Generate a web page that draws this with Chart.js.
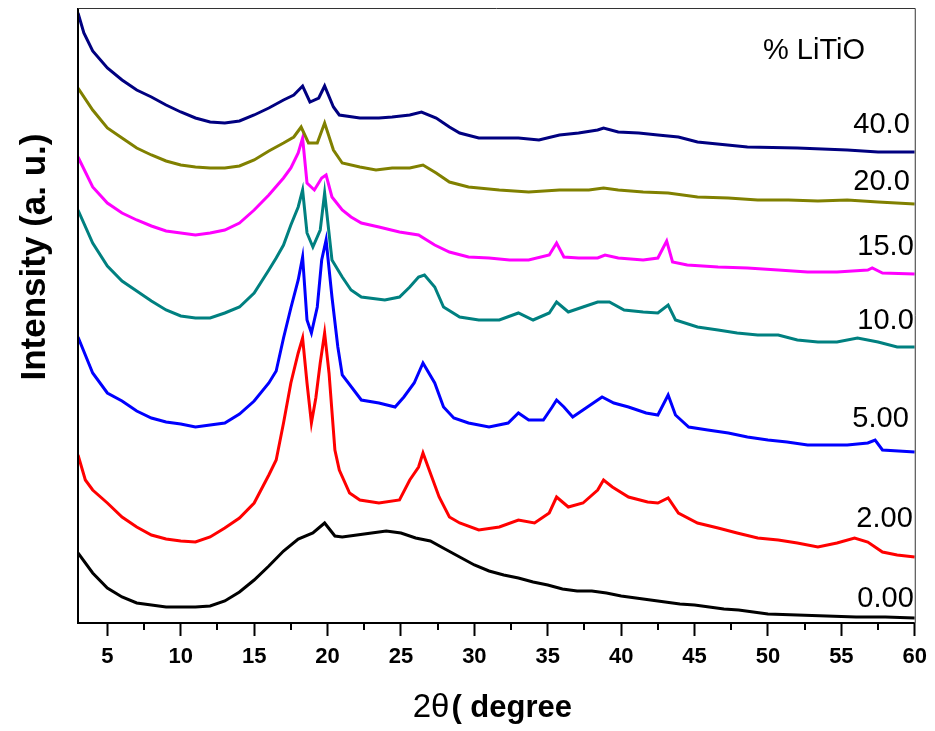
<!DOCTYPE html>
<html>
<head>
<meta charset="utf-8">
<script src="https://cdn.jsdelivr.net/npm/chart.js@4.4.1/dist/chart.umd.min.js"></script>
<style>
html,body{margin:0;padding:0;background:#fff;}
#wrap{width:935px;height:731px;}
</style>
</head>
<body>
<div id="wrap"><canvas id="c" width="935" height="731"></canvas></div>
<script>
// ---- data (2θ in degrees, intensity in arbitrary units, stacked offsets as plotted) ----
const xTicks = [5,10,15,20,25,30,35,40,45,50,55,60];
const xMinorTicks = [7.5,12.5,17.5,22.5,27.5,32.5,37.5,42.5,47.5,52.5,57.5];
const seriesNames = ['40.0','20.0','15.0','10.0','5.00','2.00','0.00'];
const legendTitle = '% LiTiO';
const xTitleA = '2\u03B8';
const xTitleB = '( degree';
const yTitle = 'Intensity (a. u.)';

const pct40 = [[3,610],[3.4,590],[4,572],[5,555],[6,543],[7,533],[8,526],[9,518],[10,511],[11,505],[12,501],[13,500],[14,502],[15,508],[16,515],[17,523],[17.7,528],[18.3,537],[18.8,521],[19.4,525],[19.8,537],[20.4,516],[20.8,508],[22.2,505],[23.5,505],[24.4,506],[25.6,508],[26.4,511],[27.4,505],[28.3,496],[29,490],[30.3,485],[31.7,485],[33,485],[34.4,483],[35.8,488],[37.1,490],[38.4,493],[38.8,495],[39.8,491],[41.2,490],[42.5,488],[43.9,486],[45.2,481],[48.6,476],[52,475],[55.4,473],[57.5,471],[60,471]];

const pct20 = [[3,535],[4,513],[5,495],[6,485],[7,475],[8,468],[9,462],[10,458],[11,456],[12,455],[13,455],[14,457],[15,463],[16,472],[17,480],[17.7,486],[18.2,496],[18.7,480],[19.3,480],[19.8,500],[20.4,473],[21,460],[22.2,456],[23.3,453],[24.4,455],[25.6,455],[26.5,458],[27.4,450],[28.3,441],[29.6,436],[31.7,433],[33.7,431],[35.8,433],[37.8,433],[38.8,435],[39.8,433],[41.5,431],[43.2,430],[45.2,426],[47.3,425],[49.3,423],[51.4,423],[53.4,422],[55.4,423],[57.5,421],[60,419]];

const pct15 = [[3,466],[4,436],[5,420],[6,410],[7,403],[8,397],[9,392],[10,390],[11,388],[12,390],[13,393],[14,400],[15,413],[16,428],[17,445],[17.5,455],[18,470],[18.3,485],[18.6,440],[19.1,433],[19.6,445],[19.9,448],[20.3,426],[21,413],[21.6,406],[22.3,400],[23.5,396],[24.9,391],[26.2,388],[27.3,378],[28.3,371],[29.6,366],[31,365],[32.4,363],[33.7,363],[35.1,368],[35.6,380],[36.1,366],[37.1,365],[38.4,365],[38.9,368],[39.8,365],[41.5,363],[42.5,365],[43.1,382],[43.5,361],[44.5,358],[46.6,356],[48.6,355],[50.7,353],[52.7,351],[54.7,351],[56.8,353],[57.1,355],[57.8,350],[60,349]];

const pct10 = [[3,413],[4,380],[5,357],[6,342],[7,332],[8,322],[9,313],[10,307],[11,305],[12,305],[13,310],[14,316],[15,330],[16,353],[16.5,365],[17,378],[17.5,398],[18,416],[18.3,433],[18.6,390],[19,376],[19.5,393],[19.8,430],[20.3,363],[21,346],[21.6,333],[22.3,326],[23.9,323],[24.9,326],[25.6,336],[26.2,346],[26.6,348],[27.3,336],[27.9,316],[29,306],[30.3,303],[31.7,303],[33,310],[34,303],[35.1,310],[35.6,321],[36.4,311],[37.4,316],[38.4,321],[39.2,321],[40.2,313],[41.5,311],[42.5,310],[43.2,318],[43.7,303],[45.2,296],[46.6,293],[47.9,290],[49.3,288],[50.7,288],[52,283],[53.4,281],[54.7,281],[56.1,285],[57.5,281],[58.8,276],[60,276]];

const pct5 = [[3,286],[4,250],[5,230],[6,222],[7,212],[8,205],[9,201],[10,199],[11,196],[12,198],[13,200],[14,209],[15,222],[16,240],[16.5,252],[17,285],[17.5,315],[18,343],[18.3,366],[18.6,303],[18.9,290],[19.3,316],[19.6,363],[19.9,383],[20.3,326],[20.7,276],[21,248],[22.3,223],[23.5,220],[24.6,216],[25.2,226],[25.9,240],[26.5,260],[27.3,240],[27.9,216],[28.6,205],[29.6,200],[31,196],[32.3,200],[33,210],[33.7,203],[34.7,203],[35.3,216],[35.6,223],[36.1,216],[36.7,206],[37.7,216],[38.7,226],[39.5,220],[40.5,216],[41.7,210],[42.5,208],[43.2,228],[43.7,208],[44.6,196],[45.9,193],[47.3,190],[48.6,186],[50,183],[51.3,181],[52.7,178],[54.1,178],[55.4,178],[56.8,180],[57.3,183],[57.8,173],[60,171]];

const pct2 = [[3,168],[3.5,143],[4,133],[5,120],[6,106],[7,96],[8,88],[9,84],[10,82],[11,81],[12,86],[13,95],[14,105],[15,120],[16,148],[16.5,163],[17,200],[17.5,240],[18,270],[18.3,285],[18.6,240],[18.9,200],[19.2,225],[19.5,260],[19.8,290],[20.1,250],[20.5,173],[20.8,153],[21.5,130],[22.2,123],[23.5,120],[24.9,123],[25.6,143],[26.2,156],[26.5,170],[27.1,146],[27.6,126],[28.3,106],[29,100],[30.3,93],[31.7,96],[33,103],[34.1,100],[35.1,110],[35.6,126],[36.4,116],[37.4,120],[38.4,133],[38.8,143],[39.4,136],[40.5,126],[41.8,121],[42.5,120],[43.2,125],[43.9,110],[45.2,100],[46.6,95],[47.9,90],[49.3,85],[50.7,83],[52,80],[53.4,76],[54.7,80],[55.9,85],[56.8,81],[57.8,71],[58.8,68],[60,66]];

const pct0 = [[3,70],[4,50],[5,35],[6,26],[7,20],[8,18],[9,16],[10,16],[11,16],[12,17],[13,22],[14,31],[15,43],[16,57],[17,72],[18,84],[19,90],[19.8,100],[20.5,87],[21,86],[22,88],[23,90],[24,92],[25,90],[26,85],[27,82],[28,74],[29,66],[30,58],[31,52],[32,48],[33,45],[34,41],[35,38],[36,34],[37,32],[38,32],[39,30],[40,27],[41,25],[42,23],[43,21],[44,19],[45,18],[46,16],[47,14],[48,13],[49,11],[50,9],[52,8],[54,7],[56,6],[58,6],[60,5]];

const seriesData = [pct40, pct20, pct15, pct10, pct5, pct2, pct0];
const seriesColors = ['#000080','#808000','#FF00FF','#008080','#0000FF','#FF0000','#000000'];

// ---- layout (pixels relative to chart area) ----
const labelBaselines = [125, 182, 247, 321, 419, 519, 599]; // from chartArea.top
const labelRights = [-5, -5, -1, -1, -6, -2, -1]; // from chartArea.right

const deco = {
  id: 'deco',
  afterDraw(chart) {
    const {ctx, chartArea: a, scales} = chart;
    const xs = scales.x;
    ctx.save();
    // frame
    ctx.strokeStyle = '#000';
    ctx.lineWidth = 2;
    ctx.beginPath();
    ctx.moveTo(a.left, a.top);
    ctx.lineTo(a.left, a.bottom);
    ctx.lineTo(a.right, a.bottom);
    ctx.stroke();
    ctx.strokeStyle = '#333';
    ctx.lineWidth = 1;
    ctx.beginPath();
    ctx.moveTo(a.left, a.top + 0.5);
    ctx.lineTo(a.right + 0.5, a.top + 0.5);
    ctx.lineTo(a.right + 0.5, a.bottom);
    ctx.stroke();
    // minor ticks
    ctx.strokeStyle = '#000';
    ctx.lineWidth = 2;
    ctx.beginPath();
    xMinorTicks.forEach(v => {
      const px = Math.round(xs.getPixelForValue(v));
      ctx.moveTo(px, a.bottom);
      ctx.lineTo(px, a.bottom + 7);
    });
    ctx.stroke();
    // series labels
    ctx.fillStyle = '#000';
    ctx.font = '29px "Liberation Sans", Arial, sans-serif';
    ctx.textAlign = 'right';
    ctx.textBaseline = 'alphabetic';
    seriesNames.forEach((t, i) => {
      ctx.fillText(t, a.right + labelRights[i], a.top + labelBaselines[i]);
    });
    ctx.textAlign = 'left';
    ctx.fillText(legendTitle, a.left + 685, a.top + 51);
    // x title
    const base = a.bottom + 94;
    const fA = '33px "Liberation Sans", Arial, sans-serif';
    const fB = 'bold 31px "Liberation Sans", Arial, sans-serif';
    ctx.font = fA;
    const wA = ctx.measureText(xTitleA).width;
    ctx.font = fB;
    const wB = ctx.measureText(xTitleB).width;
    const endX = a.left + 494;
    const startX = endX - wA - wB - 2;
    ctx.font = fA;
    ctx.fillText(xTitleA, startX, base);
    ctx.font = fB;
    ctx.fillText(xTitleB, startX + wA + 2, base);
    // y title
    ctx.translate(45, a.top + 249);
    ctx.rotate(-Math.PI / 2);
    ctx.textAlign = 'center';
    ctx.font = 'bold 35px "Liberation Sans", Arial, sans-serif';
    ctx.fillText(yTitle, 0, 0);
    ctx.restore();
  }
};

const datasets = seriesData.map((d, i) => ({
  label: seriesNames[i],
  data: d.map(p => ({x: p[0], y: p[1]})),
  borderColor: seriesColors[i],
  backgroundColor: seriesColors[i],
  borderWidth: 3,
  pointRadius: 0,
  tension: 0,
  fill: false
}));

new Chart(document.getElementById('c'), {
  type: 'line',
  data: { datasets },
  options: {
    responsive: false,
    animation: false,
    layout: { padding: { left: 0, right: 17, top: 8, bottom: 0 } },
    plugins: { legend: { display: false }, tooltip: { enabled: false } },
    scales: {
      x: {
        type: 'linear',
        min: 3, max: 60,
        afterBuildTicks: s => { s.ticks = xTicks.map(v => ({value: v})); },
        afterFit: s => { s.height = 108; },
        border: { display: false },
        grid: { display: true, drawOnChartArea: false, drawTicks: true, tickLength: 13, tickWidth: 2, tickColor: '#000' },
        ticks: { color: '#000', font: { family: '"Liberation Sans", Arial, sans-serif', size: 22, weight: 'bold' }, padding: 8, maxRotation: 0, autoSkip: false }
      },
      y: {
        type: 'linear',
        min: 0, max: 615,
        afterFit: s => { s.width = 78; },
        border: { display: false },
        grid: { display: false },
        ticks: { display: false }
      }
    }
  },
  plugins: [deco]
});
</script>
</body>
</html>
